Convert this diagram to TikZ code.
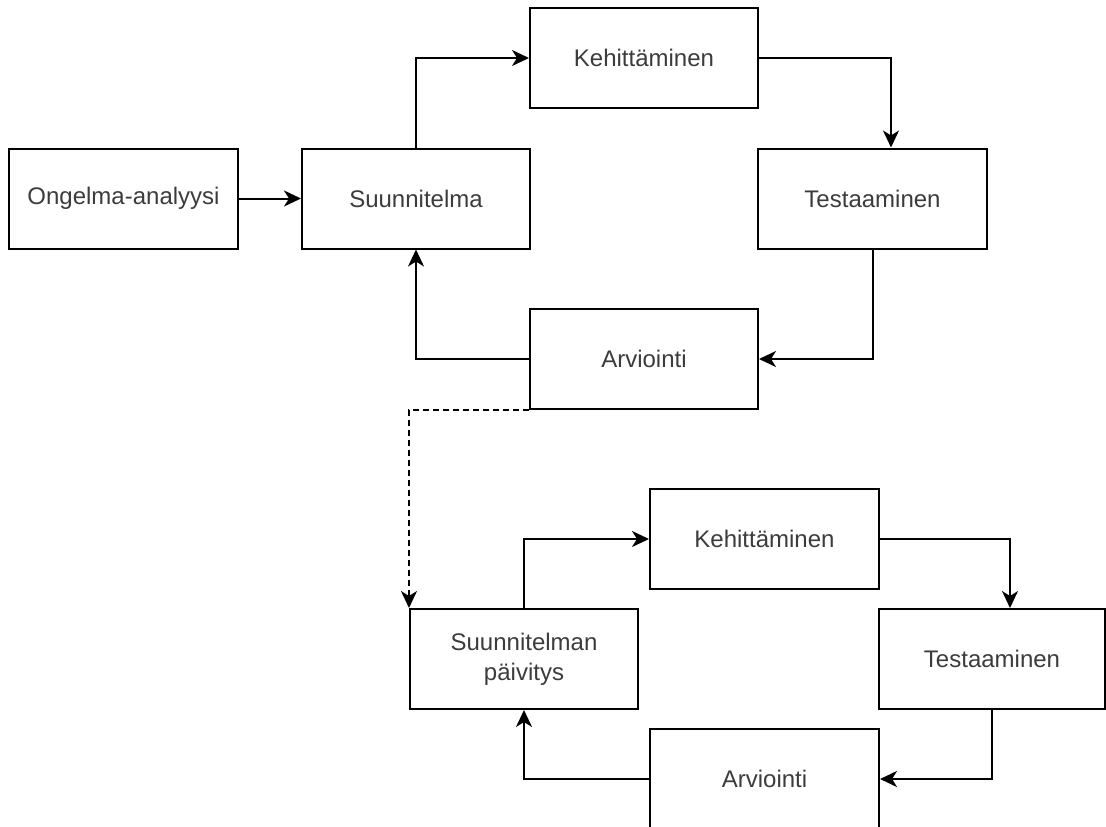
\documentclass[tikz,border=0pt]{standalone}
\usepackage{fontspec}
\setmainfont{Liberation Sans}
\usetikzlibrary{arrows.meta,positioning,calc}

\tikzset{
  vaihe/.style={rectangle, draw, line width=2pt,
    minimum width=228pt, minimum height=100pt,
    text=teksti, align=center,
    font=\fontsize{24}{30}\selectfont},
  nuoli/.style={line width=2pt,
    -{Stealth[length=17pt,width=16pt,inset=5pt]}},
  katko/.style={nuoli, dash pattern=on 6pt off 4pt}
}

\begin{document}
\begin{tikzpicture}[x=1pt, y=-1pt]
\definecolor{teksti}{RGB}{60,60,60}

\clip (0,0) rectangle (1106,827);
\fill[white] (0,0) rectangle (1106,827);

% ======================================================
% KIERROS 1 (ylh\"a\"all\"a)
% ======================================================

\node[vaihe, minimum width=229pt] (ongelma) at (123.5,198.5) {Ongelma-analyysi};
\node[vaihe] (suunn)  at (416,198.5)   {Suunnitelma};
\node[vaihe] (kehit1) at (644,58)      {Kehitt\"aminen};
\node[vaihe, minimum width=229pt] (testa1) at (872.5,198.5) {Testaaminen};
\node[vaihe] (arvi1)  at (644,359)     {Arviointi};

\draw[nuoli] (ongelma.east) -- (suunn.west);
\draw[nuoli] (suunn.north) |- (kehit1.west);
\draw[nuoli] (kehit1.east) -| ([xshift=18.5pt]testa1.north);
\draw[nuoli] (testa1.south) |- (arvi1.east);
\draw[nuoli] (arvi1.west) -| (suunn.south);

% ======================================================
% KIERROS 2 (alhaalla)
% ======================================================

\node[vaihe] (paiv)   at (524,659)   {Suunnitelman\\p\"aivitys};
\node[vaihe, minimum width=229pt] (kehit2) at (764.5,539) {Kehitt\"aminen};
\node[vaihe, minimum width=226pt] (testa2) at (992,659)   {Testaaminen};
\node[vaihe, minimum width=229pt] (arvi2)  at (764.5,779) {Arviointi};

% katkoviiva kierrosten v\"alill\"a
\draw[katko] (arvi1.south west) -| (paiv.north west);

\draw[nuoli] (paiv.north) |- (kehit2.west);
\draw[nuoli] (kehit2.east) -| ([xshift=18pt]testa2.north);
\draw[nuoli] (testa2.south) |- (arvi2.east);
\draw[nuoli] (arvi2.west) -| (paiv.south);

\end{tikzpicture}
\end{document}
